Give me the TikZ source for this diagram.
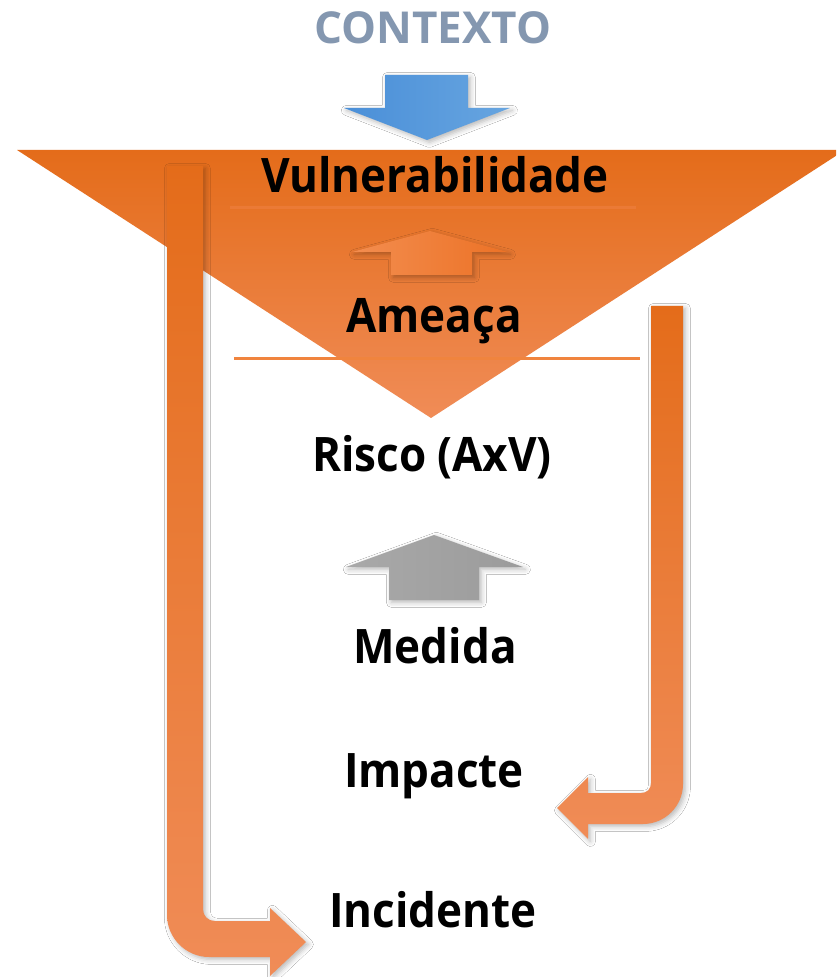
\documentclass[tikz,border=0pt]{standalone}
\usepackage{fontspec}
\usepackage{graphicx}
\setmainfont{Open Sans}
\usetikzlibrary{shadows.blur}
\definecolor{oTop}{HTML}{E46C1A}
\definecolor{oMid}{HTML}{F47F2F}
\definecolor{oBot}{HTML}{F08C57}
\definecolor{ctxcol}{HTML}{8497B0}
\definecolor{bL}{HTML}{4A8FD8}
\definecolor{bR}{HTML}{67A5E0}
\definecolor{lineA}{HTML}{EE8040}
\definecolor{lineB}{HTML}{F0843E}
\definecolor{smL}{HTML}{F38D4F}
\definecolor{smR}{HTML}{EC7226}
\definecolor{gL}{HTML}{A9A9A9}
\definecolor{gR}{HTML}{9B9B9B}
\newcommand{\tallt}[1]{\scalebox{1}[1.08]{#1}}
\tikzset{
  lbl/.style={anchor=base, inner sep=0pt, font=\fontsize{22}{26}\selectfont\bfseries, text=black},
  shad/.style={blur shadow={shadow xshift=1.2pt, shadow yshift=-1.2pt, shadow blur radius=2.5pt, shadow opacity=28}},
  bent/.style={shad, top color=oTop, middle color=oMid, bottom color=oBot, draw=none},
}
\begin{document}
\begin{tikzpicture}[x=0.5pt, y=-0.5pt]
\path[use as bounding box, clip] (0,0) rectangle (836,977);
\fill[white] (0,0) rectangle (836,977);
% triangle
\path[top color=oTop, middle color=oMid, bottom color=oBot] (17,150) -- (845,150) -- (431,418) -- cycle;
% divider lines
\draw[lineA, line width=1.5pt, opacity=0.6] (230,208) -- (636,208);
\draw[lineB, line width=1.5pt] (234,359) -- (640,359);
% left bent arrow
\path[bent] (167,166) -- (203,166) -- (203,909) .. controls (203,916) and (208,921) .. (215,921)
  -- (270,921) -- (270,908) -- (306,942) -- (270,976) -- (270,957) -- (209,957)
  .. controls (186,957) and (167,938) .. (167,915) -- cycle;
% right bent arrow
\path[bent] (651,306) -- (683,306) -- (683,784) .. controls (683,806) and (665,824) .. (643,824)
  -- (588,824) -- (588,839) -- (557,808) -- (588,777) -- (588,793) -- (641,793)
  .. controls (647,793) and (651,789) .. (651,783) -- cycle;
% blue arrow
\path[shad, left color=bL, right color=bR] (385,75) -- (468,75) -- (468,108) -- (510,108) -- (427,140) -- (344,108) -- (385,108) -- cycle;
% small orange arrow
\path[shad, left color=smL, right color=smR] (391,275) -- (391,252) -- (352,252) -- (430,231) -- (508,252) -- (472,252) -- (472,275) -- cycle;
% gray arrow
\path[shad, left color=gL, right color=gR] (389,600) -- (389,567) -- (346,567) -- (434,535) -- (523,567) -- (479,567) -- (479,600) -- cycle;
% texts
\node[lbl, text=ctxcol, font=\fontsize{22}{26}\selectfont\bfseries] (ctx) at (433,44) {CONTEXTO};
\node[lbl] (vul) at (435,193) {\tallt{Vulnerabilidade}};
\node[lbl] (ame) at (434,333) {\tallt{Ameaça}};
\node[lbl] (ris) at (432,471) {\tallt{Risco (AxV)}};
\node[lbl] (med) at (435,663) {\tallt{Medida}};
\node[lbl] (imp) at (434,787) {\tallt{Impacte}};
\node[lbl] (inc) at (433,927) {\tallt{Incidente}};
\end{tikzpicture}
\end{document}
